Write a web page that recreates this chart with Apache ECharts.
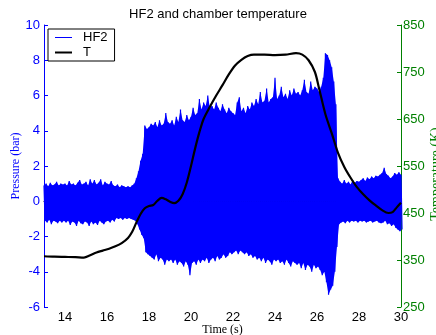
<!DOCTYPE html>
<html>
<head>
<meta charset="utf-8">
<script src="https://cdn.jsdelivr.net/npm/echarts@6/dist/echarts.min.js"></script>
<style>
html,body{margin:0;padding:0;background:#fff;}
#chart{width:436px;height:335px;}
</style>
</head>
<body>
<div id="chart"></div>
<script>
// HF2 pressure envelope, sampled every 0.1 s from 13.0 s to 30.0 s
const hfStart = 13.0;
const hfStep = 0.1;
const hfUpper = [
  0.9, 1.0, 0.85, 1.05, 0.9, 0.95, 1.1, 0.9, 1.0, 0.95,
  1.0, 0.9, 1.15, 0.95, 1.0, 0.9, 1.05, 1.2, 0.95, 1.0,
  1.1, 0.9, 1.25, 1.0, 1.2, 0.95, 1.05, 1.25, 0.9, 1.1,
  1.0, 0.95, 1.15, 0.9, 0.85, 0.95, 0.8, 0.9, 0.85, 0.8,
  0.85, 0.8, 0.9, 1.0, 1.3, 1.7, 2.3, 2.7, 4.3, 4.1,
  4.2, 4.4, 4.3, 4.5, 4.2, 4.6, 4.3, 4.4, 5.0, 4.5,
  4.4, 4.6, 4.3, 4.8, 4.5, 5.2, 4.6, 4.5, 4.9, 4.6,
  4.8, 5.3, 4.9, 5.0, 5.8, 5.2, 5.6, 5.4, 6.0, 5.3,
  5.4, 5.2, 5.6, 5.3, 5.1, 5.5, 5.2, 5.0, 5.3, 5.1,
  5.0, 4.9, 5.6, 5.9, 5.1, 5.3, 5.0, 5.4, 5.2, 5.6,
  5.4, 5.8, 5.5, 6.2, 5.6, 5.7, 6.4, 5.6, 5.8, 5.9,
  7.0, 5.8, 6.0, 6.5, 5.9, 6.1, 5.8, 6.3, 6.0, 6.4,
  6.1, 6.2, 6.0, 6.3, 6.9, 6.2, 6.1, 6.8, 6.3, 6.5,
  6.4, 6.2, 6.5, 7.0, 8.4, 8.3, 8.0, 7.6, 6.8, 5.5,
  1.3, 1.1, 1.0, 1.2, 1.0, 1.1, 0.95, 1.2, 1.05, 1.15,
  1.1, 1.2, 1.3, 1.15, 1.35, 1.25, 1.4, 1.3, 1.45, 1.4,
  1.5, 1.6, 1.9, 1.55, 1.45, 1.3, 1.4, 1.6, 1.5, 1.65,
  1.5
];
const hfLower = [
  -1.1, -1.2, -1.05, -1.3, -1.1, -1.15, -1.25, -1.1, -1.2, -1.1,
  -1.2, -1.1, -1.35, -1.15, -1.2, -1.4, -1.1, -1.25, -1.3, -1.15,
  -1.2, -1.4, -1.15, -1.3, -1.2, -1.35, -1.1, -1.2, -1.3, -1.15,
  -1.1, -1.2, -1.05, -1.15, -0.95, -1.0, -0.95, -1.05, -0.95, -1.0,
  -0.95, -1.0, -1.05, -1.1, -1.3, -1.6, -1.9, -2.1, -2.9, -3.0,
  -3.1, -3.2, -3.3, -3.0, -3.4, -3.2, -3.3, -3.6, -3.3, -3.4,
  -3.3, -3.5, -3.3, -3.6, -3.4, -3.5, -3.7, -3.4, -3.6, -4.2,
  -3.5, -3.4, -3.6, -3.3, -3.5, -3.3, -3.4, -3.2, -3.5, -3.3,
  -3.2, -3.4, -3.1, -3.3, -3.2, -3.0, -3.2, -3.1, -2.9, -3.0,
  -2.9, -2.8, -3.0, -2.8, -2.9, -3.0, -2.9, -3.1, -3.0, -3.2,
  -3.1, -3.3, -3.2, -3.4, -3.2, -3.5, -3.3, -3.4, -3.6, -3.3,
  -3.4, -3.3, -3.5, -3.4, -3.6, -3.3, -3.5, -3.7, -3.4, -3.5,
  -3.6, -3.5, -3.8, -3.5, -3.9, -3.6, -3.7, -4.0, -3.6, -3.8,
  -3.7, -3.9, -4.2, -4.0, -4.6, -5.3, -5.0, -4.8, -4.0, -2.6,
  -1.3, -1.2, -1.15, -1.25, -1.1, -1.2, -1.1, -1.15, -1.1, -1.2,
  -1.1, -1.15, -1.1, -1.2, -1.15, -1.1, -1.2, -1.15, -1.1, -1.2,
  -1.25, -1.2, -1.1, -1.3, -1.25, -1.4, -1.3, -1.5, -1.6, -1.7,
  -1.6
];

// Chamber temperature (K)
const tempTime = [13.0, 13.5, 14.0, 14.5, 14.9, 15.2, 15.5, 15.8, 16.1, 16.4, 16.7, 17.0, 17.2, 17.4, 17.6, 17.8, 18.0, 18.2, 18.4, 18.6, 18.8, 19.0, 19.2, 19.4, 19.6, 19.8, 20.0, 20.2, 20.4, 20.6, 20.9, 21.2, 21.5, 21.8, 22.1, 22.4, 22.7, 23.0, 23.5, 24.0, 24.5, 25.0, 25.3, 25.6, 25.9, 26.1, 26.4, 26.7, 27.0, 27.3, 27.6, 27.9, 28.2, 28.5, 28.8, 29.1, 29.4, 29.6, 29.8, 30.0];
const tempValue = [358, 357, 356.5, 356, 355, 360, 366, 370, 374, 379, 386, 397, 410, 430, 448, 460, 465, 467, 476, 482, 479, 474, 471, 476, 490, 515, 550, 588, 622, 650, 676, 700, 722, 745, 764, 776, 784, 787, 787, 786, 787, 790, 787, 775, 750, 715, 660, 620, 578, 548, 525, 505, 490, 477, 466, 456, 450, 452, 462, 472];

const xTicks = [14, 16, 18, 20, 22, 24, 26, 28, 30];

const hfData = [];
const upperData = [];
const lowerData = [];
for (let i = 0; i < hfUpper.length; i++) {
  const t = hfStart + i * hfStep;
  hfData.push([t, hfUpper[i]]);
  hfData.push([t + hfStep / 2, hfLower[i]]);
  upperData.push([t, hfUpper[i]]);
  lowerData.push([t + hfStep / 2, hfLower[i]]);
}
const tempData = tempTime.map((t, i) => [t, tempValue[i]]);

const BLUE = '#0000ff';
const GREEN = '#008000';
const SANS = 'Liberation Sans, Arial, Helvetica, sans-serif';
const SERIF = 'Liberation Serif, Times New Roman, serif';

const chart = echarts.init(document.getElementById('chart'), null, {renderer: 'canvas'});
chart.setOption({
  animation: false,
  backgroundColor: '#ffffff',
  title: {
    text: 'HF2 and chamber temperature',
    left: 'center',
    top: 3,
    textStyle: {fontFamily: SANS, fontSize: 13, fontWeight: 'normal', color: '#000'}
  },
  legend: {
    orient: 'vertical',
    left: 48,
    top: 29,
    padding: [2, 7, 2, 7],
    itemGap: 2,
    itemWidth: 17,
    itemHeight: 12,
    borderColor: '#000',
    borderWidth: 1,
    backgroundColor: '#fff',
    textStyle: {fontFamily: SANS, fontSize: 13, color: '#000', lineHeight: 12, padding: [0, 0, 0, 6]},
    data: [{name: 'HF2', icon: 'path://M0,5L17,5L17,6L0,6Z'}, {name: 'T', icon: 'path://M0,4.5L17,4.5L17,6.5L0,6.5Z'}]
  },
  grid: {left: 44, width: 357, top: 25, height: 282, containLabel: false, outerBoundsMode: 'none'},
  xAxis: {
    type: 'value',
    min: 13,
    max: 30,
    name: 'Time (s)',
    nameLocation: 'middle',
    nameGap: 17,
    nameMoveOverlap: false,
    nameTextStyle: {fontFamily: SERIF, fontSize: 12, color: '#000'},
    axisLine: {lineStyle: {color: '#000', width: 1}},
    axisTick: {inside: true, length: 4, customValues: xTicks, lineStyle: {color: '#000'}},
    axisLabel: {customValues: xTicks, fontFamily: SANS, fontSize: 13, color: '#000', margin: 4},
    splitLine: {show: false}
  },
  yAxis: [
    {
      type: 'value',
      min: -6,
      max: 10,
      interval: 2,
      position: 'left',
      name: 'Pressure (bar)',
      nameLocation: 'middle',
      nameGap: 22,
      nameMoveOverlap: false,
      nameRotate: 90,
      nameTextStyle: {fontFamily: SERIF, fontSize: 12, color: BLUE},
      axisLine: {show: true, lineStyle: {color: BLUE, width: 1}},
      axisTick: {show: true, inside: true, length: 4, lineStyle: {color: BLUE}},
      axisLabel: {fontFamily: SANS, fontSize: 13, color: BLUE, margin: 4},
      splitLine: {show: false}
    },
    {
      type: 'value',
      min: 250,
      max: 850,
      interval: 100,
      position: 'right',
      name: 'Temperature (K)',
      nameLocation: 'middle',
      nameGap: 28,
      nameMoveOverlap: false,
      nameRotate: 90,
      nameTextStyle: {fontFamily: SERIF, fontSize: 14, color: GREEN, padding: [0, 16, 0, 0]},
      axisLine: {show: true, lineStyle: {color: GREEN, width: 1}},
      axisTick: {show: true, inside: true, length: 4, lineStyle: {color: GREEN}},
      axisLabel: {fontFamily: SANS, fontSize: 13, color: GREEN, margin: 2},
      splitLine: {show: false}
    }
  ],
  series: [
    {
      name: 'HF2 upper',
      type: 'line',
      yAxisIndex: 0,
      data: upperData,
      symbol: 'none',
      lineStyle: {width: 0, color: BLUE},
      areaStyle: {color: BLUE, opacity: 1, origin: 0},
      silent: true,
      z: 1
    },
    {
      name: 'HF2 lower',
      type: 'line',
      yAxisIndex: 0,
      data: lowerData,
      symbol: 'none',
      lineStyle: {width: 0, color: BLUE},
      areaStyle: {color: BLUE, opacity: 1, origin: 0},
      silent: true,
      z: 1
    },
    {
      name: 'HF2',
      type: 'line',
      yAxisIndex: 0,
      data: hfData,
      symbol: 'none',
      sampling: null,
      lineStyle: {color: BLUE, width: 1.2},
      itemStyle: {color: BLUE},
      z: 2
    },
    {
      name: 'T',
      type: 'line',
      yAxisIndex: 1,
      data: tempData,
      symbol: 'none',
      smooth: 0.3,
      lineStyle: {color: '#000', width: 2.2},
      itemStyle: {color: '#000'},
      z: 3
    }
  ]
});
</script>
</body>
</html>
